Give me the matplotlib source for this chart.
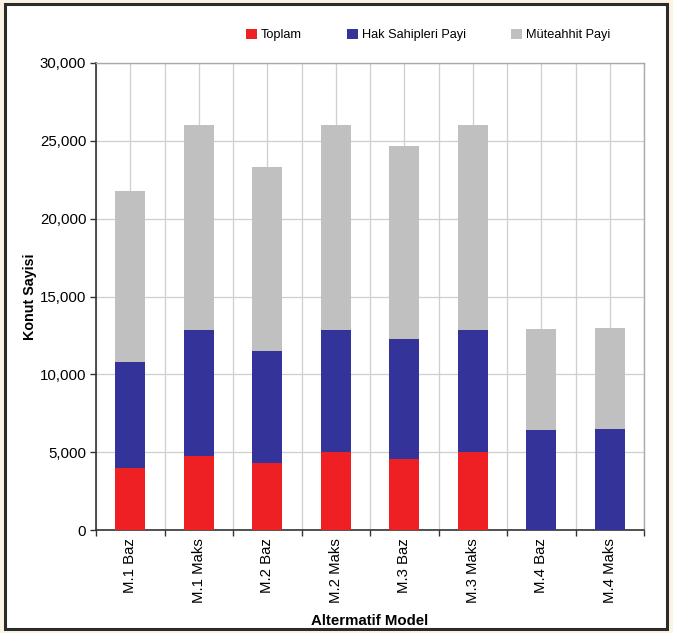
import matplotlib
matplotlib.use("Agg")
import matplotlib.pyplot as plt
from matplotlib.patches import Rectangle, Patch
from matplotlib.ticker import FuncFormatter, MultipleLocator, FixedLocator
import numpy as np

plt.rcParams['font.family'] = ['Liberation Sans', 'DejaVu Sans']

models = ["M.1 Baz", "M.1 Maks", "M.2 Baz", "M.2 Maks",
          "M.3 Baz", "M.3 Maks", "M.4 Baz", "M.4 Maks"]
toplam = [3970, 4760, 4330, 5000, 4570, 5000, 0, 0]
hak_sahipleri = [6800, 8100, 7180, 7860, 7670, 7860, 6410, 6490]
muteahhit = [10980, 13170, 11780, 13170, 12410, 13170, 6490, 6500]

c_red = "#ee2024"
c_blue = "#333399"
c_gray = "#c0c0c0"

fig = plt.figure(figsize=(6.73, 6.33), dpi=100, facecolor="#fbf4e4")
fig.patches.append(Rectangle((5 / 673, 4 / 633), 662 / 673, 625 / 633,
                             transform=fig.transFigure, facecolor="white",
                             edgecolor="#2b2b2b", linewidth=2.2, zorder=-5))

ax = fig.add_axes([96 / 673, 103 / 633, 548 / 673, 467 / 633])
ax.set_zorder(5)
ax.set_facecolor("white")

x = np.arange(len(models))
w = 0.44
bottom1 = np.array(toplam)
bottom2 = bottom1 + np.array(hak_sahipleri)
ax.bar(x, toplam, w, color=c_red, zorder=3)
ax.bar(x, hak_sahipleri, w, bottom=bottom1, color=c_blue, zorder=3)
ax.bar(x, muteahhit, w, bottom=bottom2, color=c_gray, zorder=3)

ax.set_xlim(-0.5, len(models) - 0.5)
ax.set_ylim(0, 30000)
ax.yaxis.set_major_locator(MultipleLocator(5000))
ax.yaxis.set_major_formatter(FuncFormatter(lambda v, p: f"{v:,.0f}"))

# category boundaries carry the ticks, centers carry labels
ax.xaxis.set_major_locator(FixedLocator(np.arange(len(models) + 1) - 0.5))
ax.set_xticklabels([])
ax.set_xticks(x, minor=True)
ax.set_xticklabels(models, minor=True, rotation=90, fontsize=10.8)
ax.tick_params(axis="x", which="minor", length=0, pad=6)
ax.tick_params(axis="x", which="major", direction="out", length=4,
               width=1, color="#333333")
ax.tick_params(axis="y", direction="out", length=4, width=1,
               color="#333333", labelsize=10.8, pad=3)

ax.grid(True, axis="y", color="#cfcfcf", linewidth=0.9, zorder=0)
ax.grid(True, axis="x", which="both", color="#cfcfcf", linewidth=0.9, zorder=0)

for side in ("top", "right"):
    ax.spines[side].set_color("#aaaaaa")
    ax.spines[side].set_linewidth(1.0)
for side in ("left", "bottom"):
    ax.spines[side].set_color("#333333")
    ax.spines[side].set_linewidth(1.2)

ax.set_ylabel("Konut Sayisi", fontsize=10.3, fontweight="bold", labelpad=2)
ax.set_xlabel("Altermatif Model", fontsize=10.8, fontweight="bold", labelpad=8)

handles = [Patch(facecolor=c_red), Patch(facecolor=c_blue), Patch(facecolor=c_gray)]
fig.legend(handles, ["Toplam", "Hak Sahipleri Payi", "Müteahhit Payi"],
           loc="center", bbox_to_anchor=(428 / 673, 1 - 35 / 633), ncol=3,
           frameon=False, fontsize=9.2, handlelength=0.9, handleheight=0.9,
           handletextpad=0.3, columnspacing=3.5)

fig.savefig("out.png", dpi=100, facecolor=fig.get_facecolor())
